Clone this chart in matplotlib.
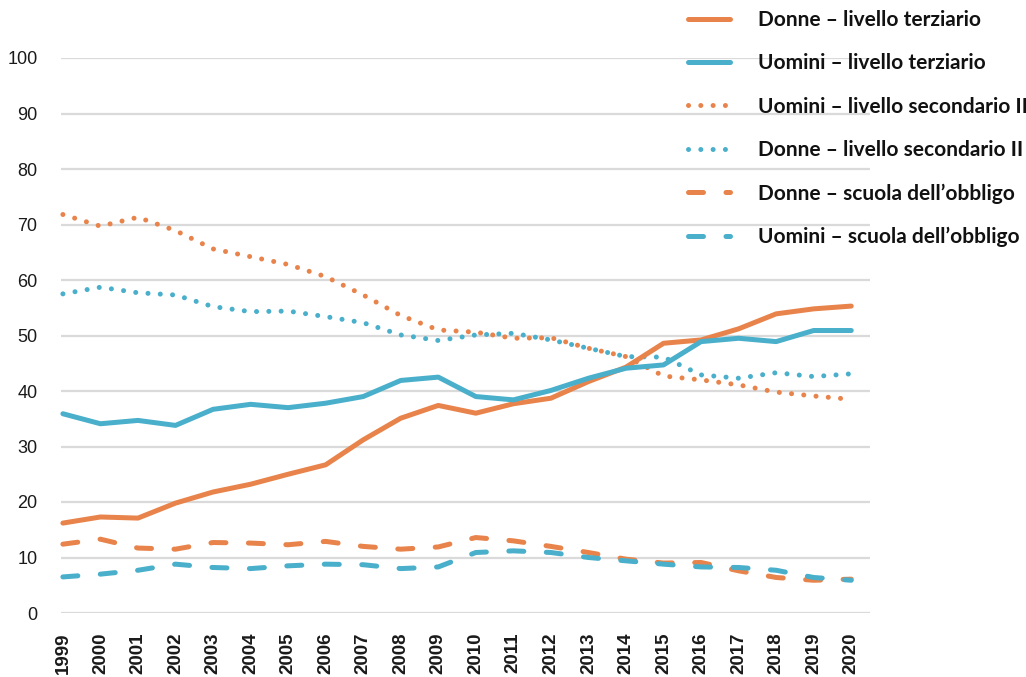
import matplotlib
matplotlib.use("Agg")
import matplotlib.pyplot as plt

# anni
years = list(range(1999, 2021))

# valori in %
donne_terziario = [16.2, 17.3, 17.1, 19.8, 21.8, 23.2, 25.0, 26.7, 31.2, 35.1, 37.4,
                   36.0, 37.7, 38.7, 41.7, 44.3, 48.6, 49.2, 51.2, 53.9, 54.8, 55.3]
uomini_terziario = [35.9, 34.1, 34.7, 33.8, 36.7, 37.6, 37.0, 37.8, 39.0, 41.9, 42.5,
                    39.0, 38.4, 40.1, 42.3, 44.1, 44.7, 48.9, 49.5, 48.9, 50.9, 50.9]
uomini_secondario = [71.8, 69.7, 71.3, 68.9, 65.6, 64.2, 62.8, 60.6, 57.3, 53.6, 51.0,
                     50.6, 49.5, 49.6, 47.7, 46.2, 42.7, 42.0, 41.1, 39.8, 39.1, 38.5]
donne_secondario = [57.5, 58.7, 57.7, 57.3, 55.2, 54.3, 54.4, 53.4, 52.3, 50.1, 49.1,
                    50.1, 50.4, 49.2, 47.7, 46.2, 46.1, 42.9, 42.3, 43.3, 42.6, 43.1]
donne_obbligo = [12.4, 13.3, 11.7, 11.5, 12.7, 12.6, 12.3, 12.9, 12.0, 11.5, 11.9,
                 13.6, 13.0, 12.0, 10.9, 9.7, 9.0, 9.1, 7.6, 6.4, 5.9, 6.1]
uomini_obbligo = [6.5, 7.0, 7.7, 8.8, 8.2, 8.0, 8.5, 8.8, 8.7, 8.0, 8.3,
                  10.9, 11.2, 10.9, 10.0, 9.4, 8.8, 8.3, 8.2, 7.7, 6.4, 5.9]

ORANGE = "#E8844B"
BLUE = "#49AFCB"
LW = 3.6
DOT = (0, (0.01, 2.45))
DASH = (0, (3, 4.5))

fig = plt.figure(figsize=(10.26, 6.77), dpi=100)
ax = fig.add_axes([61 / 1026, 1 - 613 / 677, (870 - 61) / 1026, (613 - 58) / 677])

series = [
    (donne_terziario, ORANGE, "-", "Donne – livello terziario"),
    (uomini_terziario, BLUE, "-", "Uomini – livello terziario"),
    (uomini_secondario, ORANGE, DOT, "Uomini – livello secondario II"),
    (donne_secondario, BLUE, DOT, "Donne – livello secondario II"),
    (donne_obbligo, ORANGE, DASH, "Donne – scuola dell’obbligo"),
    (uomini_obbligo, BLUE, DASH, "Uomini – scuola dell’obbligo"),
]
z = {"Donne – livello terziario": 3, "Uomini – livello terziario": 4,
     "Uomini – livello secondario II": 2, "Donne – livello secondario II": 2.5,
     "Donne – scuola dell’obbligo": 2, "Uomini – scuola dell’obbligo": 2.5}
for vals, col, ls, lab in series:
    ax.plot(years, vals, color=col, linestyle=ls, linewidth=LW, label=lab,
            solid_capstyle="round", dash_capstyle="round", solid_joinstyle="round",
            zorder=z[lab], clip_on=False)

ax.set_xlim(1998.95, 2020.5)
ax.set_ylim(0, 100)
ax.set_yticks(range(0, 101, 10))
ax.set_xticks(years)
ax.set_xticklabels([str(y) for y in years], rotation=90, fontsize=13.5,
                   fontweight="bold", family="Liberation Sans", color="#1a1a1a")
for t in ax.get_yticklabels():
    t.set_fontsize(13)
    t.set_family("Liberation Sans")
    t.set_color("#1a1a1a")
ax.tick_params(axis="both", length=0)
ax.tick_params(axis="y", pad=17)
ax.tick_params(axis="x", pad=14)
ax.grid(axis="y", color="#dadada", linewidth=1.6, zorder=0)
ax.set_axisbelow(True)
for s in ax.spines.values():
    s.set_visible(False)

leg = ax.legend(loc="upper left", bbox_to_anchor=(688 / 1026, 1 - 10 / 677),
                bbox_transform=fig.transFigure, frameon=False, borderpad=0,
                borderaxespad=0, handlelength=2.0, handletextpad=1.34,
                labelspacing=1.12, prop={"family": "Lato", "weight": "bold", "size": 15})
for t in leg.get_texts():
    t.set_color("#111111")

fig.savefig("out.png", dpi=100)
